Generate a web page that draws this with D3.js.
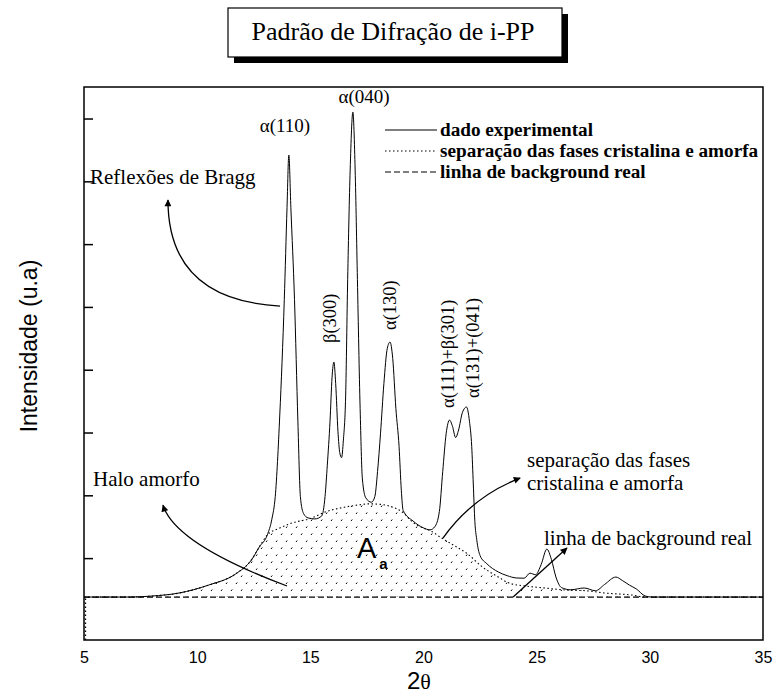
<!DOCTYPE html>
<html>
<head>
<meta charset="utf-8">
<script src="https://cdn.jsdelivr.net/npm/d3@7/dist/d3.min.js"></script>
<style>
  html, body { margin: 0; padding: 0; background: #fff; }
  svg { display: block; }
</style>
</head>
<body>
<svg id="chart" width="777" height="698"></svg>
<script>
// ---------------- DATA ----------------
const chartTitle = "Padrão de Difração de i-PP";
const xTickValues = [5, 10, 15, 20, 25, 30, 35];
const yTickValues = [310, 810, 1310, 1810, 2310, 2810, 3310, 3810];
const xDomain = [5, 35];
const yDomain = [-342, 4061];

// experimental XRD pattern: [2theta, intensity (a.u.)]
const experimental = [
  [5,0],[7,0],[8,8],[9.2,32],[10.5,95],[11.7,184],[12.4,296],[12.75,400],[13.1,495],
  [13.3,620],[13.45,800],[13.65,1450],[13.85,2370],[13.97,3100],[14.05,3519],[14.14,3100],
  [14.3,2370],[14.45,1400],[14.56,800],[14.7,665],[14.9,630],[15.2,622],[15.5,645],
  [15.65,800],[15.75,1050],[15.87,1400],[15.96,1750],[16.04,1871],[16.12,1700],[16.22,1320],
  [16.3,1150],[16.38,1110],[16.46,1250],[16.56,1600],[16.65,2530],[16.76,3400],[16.88,3861],
  [16.98,3400],[17.08,2530],[17.2,1500],[17.3,940],[17.45,790],[17.7,755],[17.85,800],
  [17.97,1000],[18.1,1300],[18.25,1700],[18.4,1980],[18.52,2030],[18.64,1900],[18.78,1500],
  [18.92,1200],[19.02,850],[19.1,690],[19.54,605],[19.98,552],[20.29,535],[20.5,560],
  [20.7,680],[20.85,1000],[21.0,1300],[21.15,1409],[21.28,1360],[21.42,1270],[21.55,1330],
  [21.72,1470],[21.9,1513],[22.03,1400],[22.13,1200],[22.2,900],[22.27,600],[22.35,460],
  [22.5,330],[22.8,265],[23.3,200],[23.7,170],[24.1,152],[24.45,150],[24.7,190],[24.95,178],
  [25.2,260],[25.45,382],[25.65,300],[25.85,160],[26.1,75],[26.5,58],[27.1,72],[27.6,50],
  [28.0,100],[28.5,159],[28.8,130],[29.1,95],[29.4,65],[29.8,8],[30.1,0],[35,0]
];

// separation of crystalline and amorphous phases (amorphous halo)
const amorphousHalo = [
  [5,0],[7,0],[8,8],[9.2,32],[10.5,95],[11.7,184],[12.4,296],[12.75,400],[13.1,495],
  [13.6,545],[14.2,590],[15.0,625],[15.7,680],[16.5,715],[17.2,735],[17.6,742],[18.1,738],
  [18.6,718],[19.1,672],[19.5,600],[20.0,548],[20.3,528],[20.8,470],[21.4,405],[21.9,350],
  [22.6,240],[23.3,160],[23.8,110],[24.5,88],[25.2,75],[26.3,56],[27.2,50],[28.0,32],
  [29.2,16],[29.8,0],[35,0]
];
const haloLeadIn = [[5,-342],[5,0]];

// real background line
const background = [[5,0],[35,0]];

// peak labels (text only)
const peakLabels = ["α(110)", "α(040)"];
const rotatedPeakLabels = ["β(300)", "α(130)", "α(111)+β(301)", "α(131)+(041)"];

// legend
const legendLabels = ["dado experimental", "separação das fases cristalina e amorfa", "linha de background real"];

// annotation arrows in data coordinates [start, control, end]
const arrows = [
  [[13.66,2317],[8.71,2365],[8.71,3161]],
  [[13.97,88],[9.02,422],[8.49,732]],
  [[20.86,470],[22.19,804],[24.27,947]],
  [[23.96,0],[25.15,195],[26.34,390]]
];

// ---------------- DRAW ----------------
const svg = d3.select("#chart");
const serif = "'Liberation Serif','Times New Roman',serif";
const sans = "'Liberation Sans',Arial,sans-serif";

const plot = {left: 84, right: 763, top: 87, bottom: 640};
const x = d3.scaleLinear().domain(xDomain).range([plot.left, plot.right]);
const y = d3.scaleLinear().domain(yDomain).range([plot.bottom, plot.top]);

const defs = svg.append("defs");
const pat = defs.append("pattern").attr("id", "dots")
  .attr("patternUnits", "userSpaceOnUse").attr("width", 10).attr("height", 14);
pat.append("line").attr("x1", 1).attr("y1", 3).attr("x2", 2.2).attr("y2", 1.5)
  .attr("stroke", "#000").attr("stroke-width", 1);
pat.append("line").attr("x1", 6).attr("y1", 10).attr("x2", 7.2).attr("y2", 8.5)
  .attr("stroke", "#000").attr("stroke-width", 1);

defs.append("marker").attr("id", "arrowhead")
  .attr("viewBox", "0 0 10 10").attr("refX", 9).attr("refY", 5)
  .attr("markerWidth", 9).attr("markerHeight", 7).attr("markerUnits", "userSpaceOnUse")
  .attr("orient", "auto")
  .append("path").attr("d", "M0,0 L10,5 L0,10 Z").attr("fill", "#000");

// Title box with shadow
const tb = {x: 228, y: 8, w: 334, h: 49};
svg.append("rect").attr("x", tb.x + 6).attr("y", tb.y + 6).attr("width", tb.w).attr("height", tb.h).attr("fill", "#000");
svg.append("rect").attr("x", tb.x).attr("y", tb.y).attr("width", tb.w).attr("height", tb.h)
  .attr("fill", "#fff").attr("stroke", "#000").attr("stroke-width", 1.2);
svg.append("text").attr("x", 393).attr("y", 40).attr("text-anchor", "middle")
  .attr("font-family", serif).attr("font-size", 26).text(chartTitle);

// halo fill
const area = d3.area().x(d => x(d[0])).y0(y(0)).y1(d => y(d[1])).curve(d3.curveMonotoneX);
svg.append("path").datum(amorphousHalo).attr("d", area).attr("fill", "url(#dots)");

const line = d3.line().x(d => x(d[0])).y(d => y(d[1]));

// background line (dashed)
svg.append("path").datum(background).attr("d", line)
  .attr("fill", "none").attr("stroke", "#000").attr("stroke-width", 1.3).attr("stroke-dasharray", "6,3");

// halo boundary (dotted)
svg.append("path").datum(amorphousHalo).attr("d", line.curve(d3.curveMonotoneX))
  .attr("fill", "none").attr("stroke", "#000").attr("stroke-width", 1.1).attr("stroke-dasharray", "1.5,2.5");
svg.append("path").datum(haloLeadIn).attr("d", d3.line().x(d => x(d[0]) + 1.5).y(d => y(d[1])))
  .attr("fill", "none").attr("stroke", "#000").attr("stroke-width", 1.3).attr("stroke-dasharray", "1.5,2.5");

// experimental curve
svg.append("path").datum(experimental).attr("d", d3.line().x(d => x(d[0])).y(d => y(d[1])).curve(d3.curveMonotoneX))
  .attr("fill", "none").attr("stroke", "#000").attr("stroke-width", 1);

// frame
svg.append("rect").attr("x", plot.left).attr("y", plot.top)
  .attr("width", plot.right - plot.left).attr("height", plot.bottom - plot.top)
  .attr("fill", "none").attr("stroke", "#000").attr("stroke-width", 1.5);

// y ticks (inward, no labels)
const yAxis = d3.axisRight(y).tickValues(yTickValues).tickSize(9).tickFormat("");
const gy = svg.append("g").attr("transform", `translate(${plot.left},0)`).call(yAxis);
gy.select(".domain").remove();
gy.selectAll("line").attr("stroke", "#000").attr("stroke-width", 1.5);

// x tick labels (no marks)
const xAxis = d3.axisBottom(x).tickValues(xTickValues).tickSize(0).tickPadding(12).tickFormat(d3.format("d"));
const gx = svg.append("g").attr("transform", `translate(0,${plot.bottom})`).call(xAxis);
gx.select(".domain").remove();
gx.selectAll("text").attr("font-family", sans).attr("font-size", 16).attr("fill", "#000");

// axis titles
svg.append("text").attr("transform", "translate(37,346) rotate(-90)").attr("text-anchor", "middle")
  .attr("font-family", sans).attr("font-size", 23).text("Intensidade (u.a)");
const xt = svg.append("text").attr("x", 407).attr("y", 689).attr("font-family", sans).attr("font-size", 24);
xt.append("tspan").text("2");
xt.append("tspan").attr("font-family", serif).attr("font-size", 22).text("θ");

// peak labels
svg.append("text").attr("x", 285).attr("y", 132).attr("text-anchor", "middle")
  .attr("font-family", serif).attr("font-size", 19).text(peakLabels[0]);
svg.append("text").attr("x", 364).attr("y", 103).attr("text-anchor", "middle")
  .attr("font-family", serif).attr("font-size", 19).text(peakLabels[1]);

const rotPos = [[336, 343], [396, 330], [454, 408], [479, 398]];
rotatedPeakLabels.forEach((t, i) => {
  svg.append("text").attr("transform", `translate(${rotPos[i][0]},${rotPos[i][1]}) rotate(-90)`)
    .attr("font-family", serif).attr("font-size", 18.5).text(t);
});

// legend
const legY = [130, 151, 172];
const legDash = [null, "1.5,2.5", "6,3"];
legendLabels.forEach((t, i) => {
  const l = svg.append("line").attr("x1", 385).attr("x2", 437).attr("y1", legY[i]).attr("y2", legY[i])
    .attr("stroke", "#000").attr("stroke-width", 1.2);
  if (legDash[i]) l.attr("stroke-dasharray", legDash[i]);
  svg.append("text").attr("x", 440).attr("y", legY[i] + 6).attr("font-family", serif)
    .attr("font-weight", "bold").attr("font-size", 19.2).text(t);
});

// annotations
const ann = [
  ["Reflexões de Bragg", 90, 184],
  ["Halo amorfo", 93, 486],
  ["separação das fases", 527, 467],
  ["cristalina e amorfa", 527, 490],
  ["linha de background real", 544, 545]
];
ann.forEach(a => {
  svg.append("text").attr("x", a[1]).attr("y", a[2]).attr("font-family", serif).attr("font-size", 21).text(a[0]);
});

// A_a label
const aa = svg.append("text").attr("x", 357).attr("y", 558).attr("font-family", sans).attr("font-size", 29);
aa.append("tspan").text("A");
aa.append("tspan").attr("dx", 3).attr("dy", 11).attr("font-size", 15).attr("font-weight", "bold").text("a");

// arrows
arrows.forEach(a => {
  const p = d3.path();
  p.moveTo(x(a[0][0]), y(a[0][1]));
  p.quadraticCurveTo(x(a[1][0]), y(a[1][1]), x(a[2][0]), y(a[2][1]));
  svg.append("path").attr("d", p.toString()).attr("fill", "none").attr("stroke", "#000")
    .attr("stroke-width", 1.3).attr("marker-end", "url(#arrowhead)");
});
</script>
</body>
</html>
